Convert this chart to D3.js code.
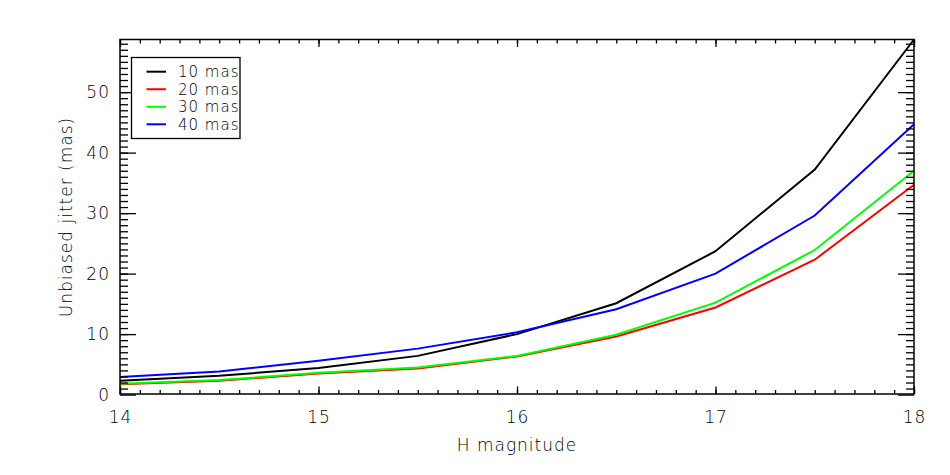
<!DOCTYPE html>
<html>
<head>
<meta charset="utf-8">
<script src="https://cdn.jsdelivr.net/npm/d3@7"></script>
<style>
  body { margin: 0; background: #fff; }
  svg text { font-family: "DejaVu Sans", "Open Sans", sans-serif; font-weight: 200; fill: #000; }
</style>
</head>
<body>
<svg id="chart" width="950" height="475"></svg>
<script>
// H magnitude sample points
let magnitudes = [14, 14.5, 15, 15.5, 16, 16.5, 17, 17.5, 18];
// unbiased jitter (mas) per injected jitter
let jitter10 = [2.3, 3.1, 4.4, 6.4, 10.0, 15.1, 23.7, 37.2, 58.7];
let jitter20 = [1.7, 2.3, 3.5, 4.3, 6.3, 9.6, 14.4, 22.3, 34.7];
let jitter30 = [1.8, 2.4, 3.6, 4.5, 6.4, 9.9, 15.2, 23.9, 37.0];
let jitter40 = [2.9, 3.8, 5.6, 7.6, 10.3, 14.1, 20.0, 29.6, 44.7];
let seriesNames = ['10 mas', '20 mas', '30 mas', '40 mas'];
let seriesColors = ['#000000', '#ff0000', '#00ff00', '#0000ff'];
let xTicks = [14, 15, 16, 17, 18];
let yTicks = [0, 10, 20, 30, 40, 50];

let plotLeft = 120, plotRight = 914, plotTop = 39.5, plotBottom = 394;
let svg = d3.select('#chart');

let x = d3.scaleLinear().domain([14, 18]).range([plotLeft, plotRight]);
let y = d3.scaleLinear().domain([0.1, 58.7]).range([plotBottom, plotTop]);

let allSeries = [jitter10, jitter20, jitter30, jitter40];

const line = d3.line()
    .x((d, i) => x(magnitudes[i]))
    .y(d => y(d));

// draw order so that black/blue sit on top like the original
[1, 2, 0, 3].forEach(k => {
    svg.append('path')
        .datum(allSeries[k])
        .attr('fill', 'none')
        .attr('stroke', seriesColors[k])
        .attr('stroke-width', 2)
        .attr('d', line);
});

let xMinor = d3.range(140, 181).map(v => v / 10);
let yMinor = d3.range(1, 59);

function styleAxis(g){
    g.select('.domain').remove();
    g.selectAll('line').attr('stroke', '#000').attr('stroke-width', 1.3);
    g.selectAll('text').style('font-size', '17px').style('letter-spacing', '1px');
}

// bottom
svg.append('g').attr('transform', `translate(0,${plotBottom})`)
    .call(d3.axisBottom(x).tickValues(xMinor).tickSize(-4).tickFormat(''))
    .call(styleAxis);
svg.append('g').attr('transform', `translate(0,${plotBottom})`)
    .call(d3.axisBottom(x).tickValues(xTicks).tickSize(-7.5).tickPadding(17).tickFormat(d3.format('d')))
    .call(styleAxis);
// top
svg.append('g').attr('transform', `translate(0,${plotTop})`)
    .call(d3.axisTop(x).tickValues(xMinor).tickSize(-4).tickFormat(''))
    .call(styleAxis);
svg.append('g').attr('transform', `translate(0,${plotTop})`)
    .call(d3.axisTop(x).tickValues(xTicks).tickSize(-7.5).tickFormat(''))
    .call(styleAxis);
// left
svg.append('g').attr('transform', `translate(${plotLeft},0)`)
    .call(d3.axisLeft(y).tickValues(yMinor).tickSize(-8).tickFormat(''))
    .call(styleAxis);
svg.append('g').attr('transform', `translate(${plotLeft},0)`)
    .call(d3.axisLeft(y).tickValues(yTicks).tickSize(-16).tickPadding(10).tickFormat(d3.format('d')))
    .call(styleAxis);
// right
svg.append('g').attr('transform', `translate(${plotRight},0)`)
    .call(d3.axisRight(y).tickValues(yMinor).tickSize(-8).tickFormat(''))
    .call(styleAxis);
svg.append('g').attr('transform', `translate(${plotRight},0)`)
    .call(d3.axisRight(y).tickValues(yTicks).tickSize(-16).tickFormat(''))
    .call(styleAxis);

// plot box
svg.append('rect')
    .attr('x', plotLeft).attr('y', plotTop)
    .attr('width', plotRight - plotLeft).attr('height', plotBottom - plotTop)
    .attr('fill', 'none').attr('stroke', '#000').attr('stroke-width', 1.5);

// axis titles
svg.append('text')
    .attr('x', (plotLeft + plotRight) / 2).attr('y', 451)
    .attr('text-anchor', 'middle')
    .style('font-size', '17px')
    .style('letter-spacing', '1px')
    .text('H magnitude');

svg.append('text')
    .attr('transform', `translate(72,${217}) rotate(-90)`)
    .attr('text-anchor', 'middle')
    .style('font-size', '17px')
    .style('letter-spacing', '1px')
    .text('Unbiased jitter (mas)');

// legend
let legend = svg.append('g');
legend.append('rect')
    .attr('x', 131.5).attr('y', 57.5)
    .attr('width', 108.5).attr('height', 81)
    .attr('fill', '#fff').attr('stroke', '#000').attr('stroke-width', 1.3);

let rowY = d3.scalePoint().domain(seriesNames).range([71.7, 124.3]);
seriesNames.forEach((name, i) => {
    legend.append('line')
        .attr('x1', 146.5).attr('x2', 166)
        .attr('y1', rowY(name)).attr('y2', rowY(name))
        .attr('stroke', seriesColors[i]).attr('stroke-width', 2);
    legend.append('text')
        .attr('x', 178).attr('y', rowY(name))
        .attr('dy', '0.36em')
        .style('font-size', '15px')
        .style('letter-spacing', '1px')
        .text(name);
});
</script>
</body>
</html>
